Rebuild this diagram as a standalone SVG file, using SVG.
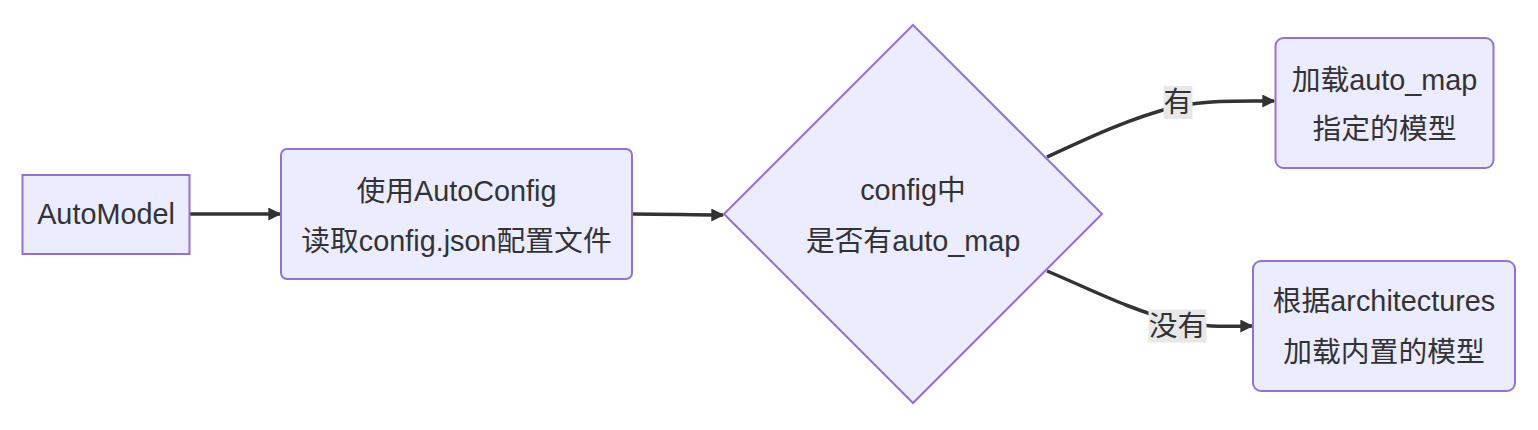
<svg xmlns="http://www.w3.org/2000/svg" width="1538" height="430" viewBox="0 0 1538 430">
<style>
.node rect,.node polygon{fill:#ECECFF;stroke:#9370DB;stroke-width:2}
text{font-family:"Liberation Sans","Noto Sans CJK SC",sans-serif;font-size:28.8px;fill:#333;text-anchor:middle}
.edge{fill:none;stroke:#333;stroke-width:3.5}
.lbl{fill:#e8e8e8}
</style>
<defs>
<marker id="arr" markerUnits="userSpaceOnUse" viewBox="0 0 10 10" refX="9" refY="5" markerWidth="13" markerHeight="13" orient="auto">
<path d="M0,0 L10,5 L0,10 z" fill="#333"/>
</marker>
</defs>
<g id="connectors">
<path class="edge" d="M189.5,214 L280,214" marker-end="url(#arr)"/>
<path class="edge" d="M632,214 C670,214 690,215 723,215" marker-end="url(#arr)"/>
<path class="edge" d="M1047,157 C1090,137 1130,118 1178,106 C1210,100 1240,101 1274,101" marker-end="url(#arr)"/>
<path class="edge" d="M1047,271 C1090,289 1130,310 1178,322 C1210,328 1230,326 1252,326" marker-end="url(#arr)"/>
<g id="label-yes"><rect class="lbl" x="1163.5" y="86" width="29" height="33"/><text x="1178" y="112">有</text></g>
<g id="label-no"><rect class="lbl" x="1148.5" y="309.5" width="58" height="33"/><text x="1177.5" y="336">没有</text></g>
</g>
<g id="A" class="node"><rect x="22.5" y="175" width="167" height="79"/><text x="106" y="224">AutoModel</text></g>
<g id="B" class="node"><rect x="281" y="149" width="351" height="130" rx="6"/><text x="456.5" y="201">使用AutoConfig</text><text x="456.5" y="251">读取config.json配置文件</text></g>
<g id="C" class="node"><polygon points="913,25 1102,214 913,403 724,214"/><text x="913" y="200">config中</text><text x="913" y="251">是否有auto_map</text></g>
<g id="D" class="node"><rect x="1275.5" y="38" width="218" height="130" rx="8"/><text x="1384.5" y="90">加载auto_map</text><text x="1384.5" y="139">指定的模型</text></g>
<g id="E" class="node"><rect x="1253" y="261" width="262" height="130" rx="8"/><text x="1384" y="311">根据architectures</text><text x="1384" y="362">加载内置的模型</text></g>
</svg>
